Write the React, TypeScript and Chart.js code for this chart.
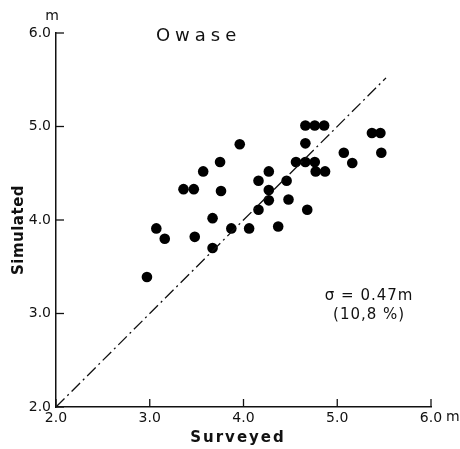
import { useEffect, useRef } from "react";
import { Chart, registerables } from "chart.js";

Chart.register(...registerables);

// Surveyed (x) vs simulated (y) heights, metres
const surveyed = [
  2.97, 3.07, 3.16, 3.36, 3.47, 3.57, 3.48, 3.67, 3.67, 3.75,
  3.76, 3.96, 3.87, 4.06, 4.16, 4.16, 4.27, 4.27, 4.27, 4.37,
  4.46, 4.48, 4.68, 4.56, 4.66, 4.76, 4.66, 4.66, 4.76, 4.86,
  4.77, 4.87, 5.07, 5.16, 5.37, 5.46, 5.47,
];
const simulated = [
  3.39, 3.91, 3.8, 4.33, 4.33, 4.52, 3.82, 4.02, 3.7, 4.62,
  4.31, 4.81, 3.91, 3.91, 4.11, 4.42, 4.52, 4.32, 4.21, 3.93,
  4.42, 4.22, 4.11, 4.62, 4.62, 4.62, 4.82, 5.01, 5.01, 5.01,
  4.52, 4.52, 4.72, 4.61, 4.93, 4.93, 4.72,
];
const refLineX = [2.0, 5.52];
const refLineY = [2.0, 5.52];
const axisMin = 2;
const axisMax = 6;
const tickLabels = ["2.0", "3.0", "4.0", "5.0", "6.0"];
const titleText = "Owase";
const xTitle = "Surveyed";
const yTitle = "Simulated";
const unitLabel = "m";
const statLines = ["σ = 0.47m", "(10,8 %)"];
// annotation anchors in data units
const titlePos = [3.5, 5.96];
const statPos = [5.34, 3.19];
const statPos2 = [5.34, 2.98];

const FONT = "'DejaVu Sans', sans-serif";

export default function App() {
  const ref = useRef<HTMLCanvasElement | null>(null);

  useEffect(() => {
    document.body.style.margin = "0";
    const canvas = ref.current!;
    const decor = {
      id: "decor",
      afterDraw(chart: any) {
        const ctx = chart.ctx;
        const xs = chart.scales.x;
        const ys = chart.scales.y;
        const ca = chart.chartArea;
        ctx.save();
        ctx.strokeStyle = "#111";
        ctx.lineWidth = 1.3;
        // inward tick marks
        ys.ticks.forEach((t: any) => {
          const py = ys.getPixelForValue(t.value);
          ctx.beginPath();
          ctx.moveTo(ca.left, py);
          ctx.lineTo(ca.left + 8, py);
          ctx.stroke();
        });
        xs.ticks.forEach((t: any) => {
          const px = xs.getPixelForValue(t.value);
          ctx.beginPath();
          ctx.moveTo(px, ca.bottom);
          ctx.lineTo(px, ca.bottom - 8);
          ctx.stroke();
        });
        ctx.fillStyle = "#111";
        ctx.textBaseline = "middle";
        // units
        ctx.font = `14px ${FONT}`;
        ctx.textAlign = "center";
        ctx.fillText(unitLabel, ca.left - 4, ca.top - 17);
        ctx.textAlign = "left";
        ctx.fillText(unitLabel, xs.getPixelForValue(axisMax) + 15, ca.bottom + 10);
        // title
        ctx.textAlign = "center";
        ctx.font = `18px ${FONT}`;
        (ctx as any).letterSpacing = "5px";
        ctx.fillText(titleText, xs.getPixelForValue(titlePos[0]) + 2, ys.getPixelForValue(titlePos[1]));
        // axis titles
        ctx.font = `bold 15px ${FONT}`;
        (ctx as any).letterSpacing = "2px";
        ctx.fillText(xTitle, 238, 438);
        ctx.save();
        ctx.translate(19, 230);
        ctx.rotate(-Math.PI / 2);
        (ctx as any).letterSpacing = "0.5px";
        ctx.fillText(yTitle, 0, 0);
        ctx.restore();
        // statistics
        ctx.font = `15px ${FONT}`;
        (ctx as any).letterSpacing = "1px";
        ctx.fillText(statLines[0], xs.getPixelForValue(statPos[0]), ys.getPixelForValue(statPos[1]));
        ctx.fillText(statLines[1], xs.getPixelForValue(statPos2[0]), ys.getPixelForValue(statPos2[1]));
        ctx.restore();
      },
    };

    const chart = new Chart(canvas, {
      type: "scatter",
      data: {
        datasets: [
          {
            type: "line",
            data: refLineX.map((x, i) => ({ x, y: refLineY[i] })),
            borderColor: "#111",
            borderWidth: 1.3,
            borderDash: [12, 4, 2, 4],
            pointRadius: 0,
            fill: false,
          } as any,
          {
            data: surveyed.map((x, i) => ({ x, y: simulated[i] })),
            backgroundColor: "#000",
            borderColor: "#000",
            pointRadius: 5.3,
            pointBorderWidth: 0,
          },
        ],
      },
      options: {
        responsive: false,
        animation: false,
        layout: { padding: { left: 0, top: 33, right: 29, bottom: 0 } },
        plugins: {
          legend: { display: false },
          tooltip: { enabled: false },
        },
        scales: {
          x: {
            type: "linear",
            min: axisMin,
            max: axisMax,
            afterFit: (s: any) => {
              s.height = 42;
            },
            ticks: {
              stepSize: 1,
              padding: 3,
              color: "#111",
              font: { family: FONT, size: 14 },
              maxRotation: 0,
              callback: (_v: any, i: number) => tickLabels[i],
            },
            grid: { display: true, drawOnChartArea: false, drawTicks: false },
            border: { display: true, color: "#111", width: 1.5 },
          },
          y: {
            type: "linear",
            min: axisMin,
            max: axisMax,
            afterFit: (s: any) => {
              s.width = 56;
            },
            ticks: {
              stepSize: 1,
              padding: 5,
              color: "#111",
              font: { family: FONT, size: 14 },
              callback: (_v: any, i: number) => tickLabels[i],
            },
            grid: { display: true, drawOnChartArea: false, drawTicks: false },
            border: { display: true, color: "#111", width: 1.5 },
          },
        },
      },
      plugins: [decor],
    });
    return () => chart.destroy();
  }, []);

  return (
    <div style={{ position: "fixed", left: 0, top: 0, width: 460, height: 449, background: "#fff" }}>
      <canvas ref={ref} width={460} height={449} style={{ width: 460, height: 449, display: "block" }} />
    </div>
  );
}
